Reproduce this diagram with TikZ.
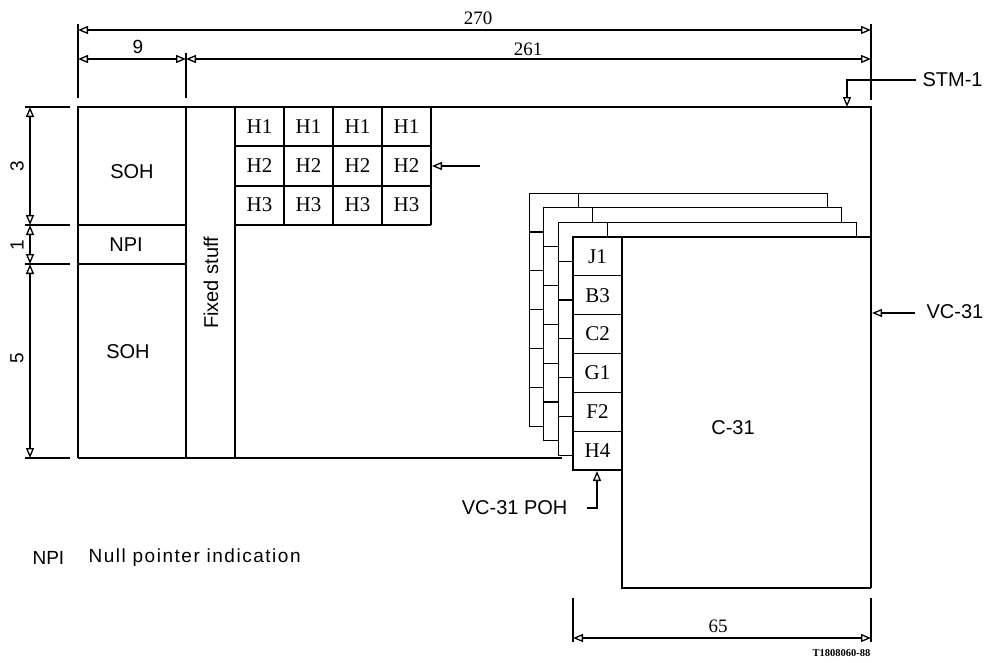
\documentclass[tikz,border=0pt]{standalone}
\usepackage{fontspec}
\setmainfont{Liberation Serif}
\setsansfont{Liberation Sans}
\usetikzlibrary{arrows.meta}
\begin{document}
\begin{tikzpicture}[x=1pt,y=-1pt,line width=1.2pt,
  tip/.tip={Triangle[open,length=10pt,width=8pt,line width=1.3pt]},
  arr/.style={-tip},
  dim/.style={tip-tip},
  lbl/.style={font=\sffamily\fontsize{20}{22}\selectfont,inner sep=0pt},
  hcell/.style={font=\fontsize{21}{23}\selectfont,inner sep=0pt},
  num/.style={font=\fontsize{19}{21}\selectfont,inner sep=0pt},
  snum/.style={font=\sffamily\fontsize{19}{21}\selectfont,inner sep=0pt}]
\useasboundingbox (0,0) rectangle (986,662);
% ---------- STM-1 frame ----------
\draw (78,458) -- (78,107) -- (871,107) -- (871,588);
\draw (78,458) -- (562,458);
\draw (186,107) -- (186,458);
\draw (235,107) -- (235,458);
\draw (78,225) -- (186,225);
\draw (78,264) -- (186,264);
% H grid
\foreach \yy in {146,186,225} \draw (235,\yy) -- (431,\yy);
\foreach \xx in {284,333,382,431} \draw (\xx,107) -- (\xx,225);
\foreach \r/\yy in {1/127,2/166,3/205}{
  \foreach \c/\xx in {1/259.5,2/308.5,3/357.5,4/406.5}{
    \node[hcell] (h\r\c) at (\xx,\yy) {H\r};
  }
}
\coordinate (h2src) at (480,166);
\coordinate (h2dst) at (432,166);
\draw[arr] (h2src) -- (h2dst);
\node[lbl] (soh1) at (132,172) {SOH};
\node[lbl] (npi) at (126,245) {NPI};
\node[lbl] (soh2) at (128,352) {SOH};
\node[lbl,rotate=90] (fixed) at (211,283) {Fixed stuff};
% ---------- top dimensions ----------
\draw (78,24) -- (78,98);
\draw (186,53) -- (186,98);
\draw (871,24) -- (871,100);
\coordinate (d270a) at (78,30); \coordinate (d270b) at (871,30);
\coordinate (d9a) at (78,59); \coordinate (d9b) at (186,59); \coordinate (d261b) at (871,59);
\draw[dim] (d270a) -- (d270b);
\draw[dim] (d9a) -- (d9b);
\draw[dim] (d9b) -- (d261b);
\node[num] (n270) at (478,18) {270};
\node[snum] (n9) at (138,47) {9};
\node[num] (n261) at (528,49) {261};
% STM-1 label
\node[lbl,anchor=west] (stm) at (922,80) {STM-1};
\coordinate (stmk) at (847,80);
\coordinate (stmt) at (847,107);
\draw[arr] (916,80) -- (stmk) -- (stmt);
% ---------- left dimensions ----------
\foreach \yy in {107,225,264,458} \draw (25,\yy) -- (70,\yy);
\coordinate (l1) at (30,107); \coordinate (l2) at (30,225);
\coordinate (l3) at (30,264); \coordinate (l4) at (30,458);
\draw[dim] (l1) -- (l2);
\draw[dim] (l2) -- (l3);
\draw[dim] (l3) -- (l4);
\node[snum,rotate=90] (n3) at (17,166) {3};
\node[snum,rotate=90] (n1) at (17,245) {1};
\node[snum,rotate=90] (n5) at (17,358) {5};
% ---------- VC-31 stack ----------
\def\dd{14.6}
\foreach \k in {1,2,3}{
  \pgfmathsetmacro{\Lp}{573-\dd*(\k-1)}
  \pgfmathsetmacro{\Tp}{237-\dd*(\k-1)}
  \pgfmathsetmacro{\L}{573-\dd*\k}
  \pgfmathsetmacro{\T}{237-\dd*\k}
  \pgfmathsetmacro{\R}{871-\dd*\k}
  \pgfmathsetmacro{\B}{470-\dd*\k}
  \pgfmathsetmacro{\D}{622-\dd*\k}
  \draw (\Lp,\B) -- (\L,\B) -- (\L,\T) -- (\R,\T) -- (\R,\Tp);
  \draw (\D,\T) -- (\D,\Tp);
  \foreach \i in {1,...,5}{
    \pgfmathsetmacro{\Y}{237+38.83*\i-\dd*\k}
    \draw (\L,\Y) -- (\Lp,\Y);
  }
}
% front frame
\draw[fill=white] (573,237) rectangle (622,470);
\draw (622,237) -- (871,237);
\draw (622,470) -- (622,588) -- (871,588);
\foreach \i in {1,...,5}{
  \pgfmathsetmacro{\Y}{237+38.83*\i}
  \draw (573,\Y) -- (622,\Y);
}
\foreach \i/\t in {0/J1,1/B3,2/C2,3/G1,4/F2,5/H4}{
  \pgfmathsetmacro{\Y}{237+38.83*\i+19.4}
  \node[hcell] (poh\i) at (597.5,\Y) {\t};
}
\node[lbl] (c31) at (733,428) {C-31};
% VC-31 label
\node[lbl,anchor=west] (vc31) at (926,312) {VC-31};
\coordinate (vcs) at (915,313);
\coordinate (vct) at (872,313);
\draw[arr] (vcs) -- (vct);
% VC-31 POH label
\node[lbl,anchor=east] (poh) at (568,508) {VC-31 POH};
\coordinate (pohk) at (597,508);
\coordinate (poht) at (597,471);
\draw[arr] (587,508) -- (pohk) -- (poht);
% 65 dimension
\draw (573,598) -- (573,642);
\draw (871,598) -- (871,642);
\coordinate (d65a) at (573,638); \coordinate (d65b) at (871,638);
\draw[dim] (d65a) -- (d65b);
\node[num] (n65) at (718,626) {65};
\node[font=\bfseries\fontsize{10.5}{12}\selectfont,inner sep=0pt,anchor=east] (tag) at (871,653) {T1808060-88};
% legend
\node[lbl,anchor=west,font=\sffamily\fontsize{19}{22}\selectfont] (lnpi) at (32,558) {NPI};
\node[lbl,anchor=west,font=\sffamily\fontsize{19}{22}\selectfont\addfontfeature{LetterSpace=8}] (lnull) at (88,558) {Null pointer indication};
\end{tikzpicture}
\end{document}
